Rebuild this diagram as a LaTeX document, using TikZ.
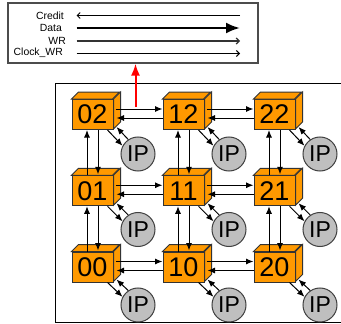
\documentclass[tikz,border=0pt]{standalone}
\usepackage{fontspec}
\setmainfont{Liberation Sans}
\usetikzlibrary{arrows.meta}
\tikzset{
    router/.style={draw=black!80, fill=routerorange, line width=1pt, minimum width=41pt, minimum height=30pt, inner sep=0pt, font=\fontsize{27}{27}\selectfont},
    routerside/.style={draw=black!80, fill=routerorange, line width=1pt},
    ipcore/.style={circle, draw=black!75, fill=black!25, line width=1pt, minimum size=34pt, inner sep=0pt, font=\fontsize{23}{23}\selectfont},
    link/.style={line width=1pt, -{Latex[length=7.5pt,width=6pt]}},
    legendtext/.style={anchor=east, inner sep=0pt, font=\fontsize{10.4}{12}\selectfont},
    legendbox/.style={draw=black!70, line width=1.2pt, minimum width=250pt, minimum height=60pt, inner sep=0pt}
}
\definecolor{routerorange}{HTML}{FF9900}
\begin{document}
\begin{tikzpicture}[x=1pt, y=-1pt]
    \useasboundingbox (0,0) rectangle (341,324);
    % legend and mesh frame
    \node[legendbox] (legend) at (133,33) {};
    \draw[line width=1pt] (341,83.5) -- (55.5,83.5) -- (55.5,322) -- (341,322);
    \node[legendtext] (credit) at (64,15.5) {Credit};
    \node[legendtext] (data) at (62,28) {Data};
    \node[legendtext] (wr) at (66,40.5) {WR};
    \node[legendtext] (clock) at (63,53) {Clock\_WR};
    \coordinate (creditend) at (76.5,15.5);
    \coordinate (creditstart) at (240,15.5);
    \coordinate (dataend) at (240,28);
    \coordinate (datastart) at (76.5,28);
    \coordinate (wrend) at (240,41);
    \coordinate (wrstart) at (76.5,41);
    \coordinate (clockend) at (240,53.5);
    \coordinate (clockstart) at (76.5,53.5);
    \draw[line width=1pt, -{Straight Barb[length=3pt,width=6pt]}] (creditstart) -- (creditend);
    \draw[line width=2.4pt, -{Latex[length=14pt,width=11pt]}] (datastart) -- (dataend);
    \draw[line width=1.2pt, black!80, -{Straight Barb[length=3pt,width=6pt]}] (wrstart) -- (wrend);
    \draw[line width=1pt, -{Straight Barb[length=3pt,width=6pt]}] (clockstart) -- (clockend);
    % routers and IP cores
    \foreach \cx in {0,1,2} {
        \foreach \cy in {0,1,2} {
            \node[router] (r\cx\cy) at ({92.5+91*\cx},{267-76.25*\cy}) {\cx\cy};
            \draw[routerside] (r\cx\cy.north west) -- ++(7,-7) -- ++(41,0) -- ++(-7,7) -- cycle;
            \draw[routerside] (r\cx\cy.north east) -- ++(7,-7) -- ++(0,30) -- ++(-7,7) -- cycle;
            \node[ipcore] (ip\cx\cy) at ({138+91*\cx},{154+75.5*(2-\cy)}) {IP};
            \draw[link] ([xshift=-6pt]r\cx\cy.south east) -- (ip\cx\cy.152);
            \draw[link] (ip\cx\cy.124) -- ([xshift=3pt,yshift=3pt]r\cx\cy.south east);
        }
    }
    % mesh links
    \foreach \cy in {0,1,2} {
        \foreach \cx/\nx in {0/1,1/2} {
            \draw[link] ([xshift=2pt,yshift=5.5pt]r\cx\cy.east) -- ([yshift=5.5pt]r\nx\cy.west);
            \draw[link] ([yshift=-3.5pt]r\nx\cy.west) -- ([xshift=3pt,yshift=-3.5pt]r\cx\cy.east);
        }
    }
    \foreach \cx in {0,1,2} {
        \foreach \cy/\ny in {0/1,1/2} {
            \draw[link] ([xshift=-5.5pt]r\cx\cy.north) -- ([xshift=-5.5pt]r\cx\ny.south);
            \draw[link] ([xshift=5.5pt]r\cx\ny.south) -- ([xshift=5.5pt,yshift=1pt]r\cx\cy.north);
        }
    }
    % red arrow to legend
    \coordinate (redstart) at (135.5,107);
    \draw[red, line width=2pt, -{Latex[length=12pt,width=9pt]}] (redstart) -- (redstart |- legend.south);
\end{tikzpicture}
\end{document}
